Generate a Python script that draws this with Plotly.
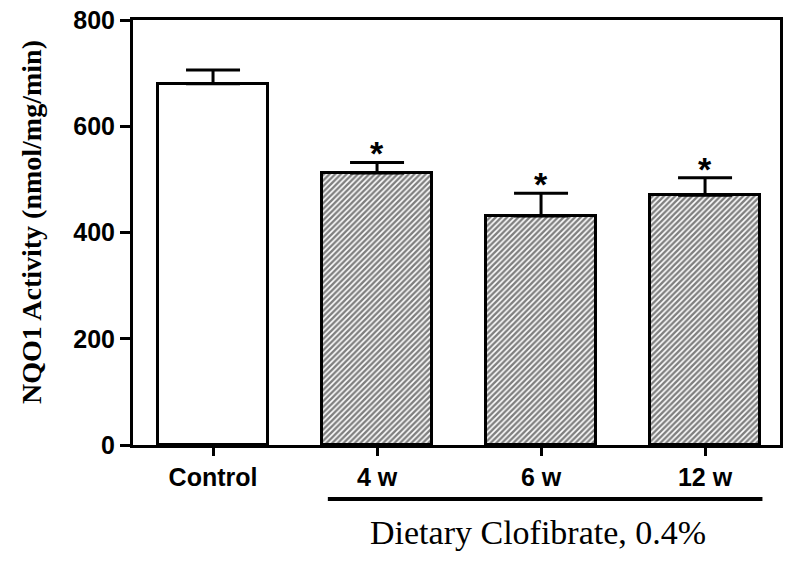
import plotly.graph_objects as go

categories = ["Control", "4 w", "6 w", "12 w"]
means = [680, 512, 431, 470]
errors = [26, 20, 43, 33]
significant = [False, True, True, True]

fig = go.Figure()
patterns = ["", "/", "/", "/"]
fig.add_trace(go.Bar(
    x=categories, y=means,
    width=0.67,
    marker=dict(color="white", line=dict(color="black", width=3),
                pattern=dict(shape=patterns, fgcolor="black", bgcolor="white",
                             size=4, solidity=0.6)),
    error_y=dict(type="data", array=errors, symmetric=False, arrayminus=[0]*4,
                 color="black", thickness=3, width=27),
    showlegend=False,
    hoverinfo="skip",
))

for c, m, e, s in zip(categories, means, errors, significant):
    if s:
        fig.add_annotation(x=c, y=m + e, text="*", showarrow=False,
                           yanchor="bottom", yshift=-12,
                           font=dict(family="Liberation Sans", size=34, color="black", weight="bold"))

fig.add_shape(type="line", xref="x", yref="paper", x0=0.70, x1=3.35, y0=-0.127, y1=-0.127,
              line=dict(color="black", width=4))
fig.add_annotation(xref="x", yref="paper", x=1.98, y=-0.207, text="Dietary Clofibrate, 0.4%",
                   showarrow=False, yanchor="middle",
                   font=dict(family="Liberation Serif", size=34, color="black"))
fig.add_annotation(xref="paper", yref="paper", x=(31 - 133) / 647, y=(445 - 222) / 425,
                   text="NQO1 Activity (nmol/mg/min)", textangle=-90, showarrow=False,
                   xanchor="center", yanchor="middle",
                   font=dict(family="Liberation Serif", size=28, color="black", weight="bold"))

fig.update_layout(
    width=800, height=563,
    margin=dict(l=133, r=20, t=20, b=118),
    paper_bgcolor="white", plot_bgcolor="white",
    bargap=0,
    xaxis=dict(range=[-0.488, 3.457], showline=True, linecolor="black", linewidth=3,
               mirror=True, ticks="outside", ticklen=8, tickwidth=3, tickcolor="black",
               tickfont=dict(family="Liberation Sans", size=25, color="black", weight="bold"),
               showgrid=False, automargin=False),
    yaxis=dict(range=[0, 800], tickvals=[0, 200, 400, 600, 800],
               showline=True, linecolor="black", linewidth=3, mirror=True,
               ticks="outside", ticklen=10, tickwidth=3, tickcolor="black",
               tickfont=dict(family="Liberation Sans", size=25, color="black", weight="bold"),
               showgrid=False, zeroline=False, automargin=False),
)

fig.write_html("out.html", config={"displayModeBar": False},
               post_script="document.body.style.margin='0';")
